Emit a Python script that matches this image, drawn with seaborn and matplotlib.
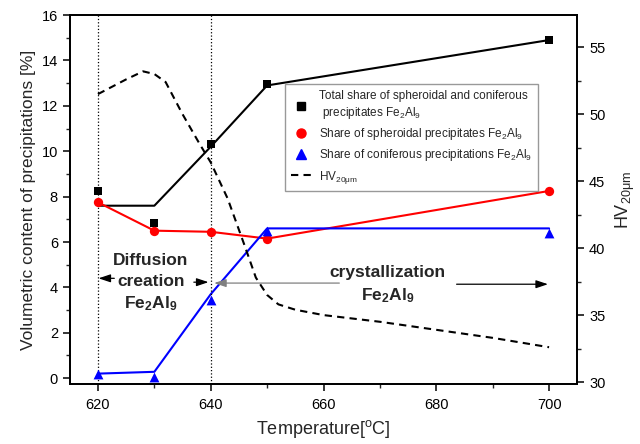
import pandas as pd
import seaborn as sns
import matplotlib.pyplot as plt
from matplotlib.lines import Line2D

# measured points (volumetric content, %)
temps = [620, 630, 640, 650, 700]
total_pts = [8.25, 6.85, 10.3, 12.95, 14.9]
spher_pts = [7.75, 6.5, 6.45, 6.15, 8.25]
conif_pts = [0.2, 0.05, 3.45, 6.5, 6.4]

# fitted lines
total_fit = [7.6, 7.6, 10.2, 12.9, 14.9]
spher_fit = [7.75, 6.5, 6.45, 6.15, 8.25]
conif_fit = [0.2, 0.28, 3.7, 6.6, 6.6]

# hardness curve (right axis)
hv_temps = [620, 625, 628, 630, 632, 635, 638, 640, 643, 646, 648, 650,
            652, 655, 660, 670, 680, 690, 700]
hv_vals = [51.5, 52.6, 53.2, 53.0, 52.4, 50.0, 47.8, 46.4, 43.7, 40.2, 37.8, 36.5,
           35.8, 35.4, 35.0, 34.5, 33.9, 33.3, 32.6]

sns.set_theme(style="ticks")
plt.rcParams['font.family'] = ['Liberation Sans', 'DejaVu Sans']
plt.rcParams['mathtext.fontset'] = 'custom'
plt.rcParams['mathtext.rm'] = 'Liberation Sans'
plt.rcParams['mathtext.it'] = 'Liberation Sans'
plt.rcParams['mathtext.bf'] = 'Liberation Sans:bold'

df = pd.DataFrame({'T': temps, 'total': total_pts, 'spher': spher_pts, 'conif': conif_pts,
                   'total_fit': total_fit, 'spher_fit': spher_fit, 'conif_fit': conif_fit})
hv = pd.DataFrame({'T': hv_temps, 'HV': hv_vals})

fig = plt.figure(figsize=(6.4, 4.44), dpi=100)
ax = fig.add_axes([0.109, 0.135, 0.793, 0.831])

sns.lineplot(data=df, x='T', y='total_fit', color='black', lw=1.5, ax=ax, estimator=None)
sns.lineplot(data=df, x='T', y='spher_fit', color='red', lw=1.5, ax=ax, estimator=None)
sns.lineplot(data=df, x='T', y='conif_fit', color='blue', lw=1.5, ax=ax, estimator=None)
sns.scatterplot(data=df, x='T', y='total', marker='s', color='black', s=40, ax=ax, zorder=5, linewidth=0)
sns.scatterplot(data=df, x='T', y='spher', marker='o', color='red', s=45, ax=ax, zorder=5, linewidth=0)
sns.scatterplot(data=df, x='T', y='conif', marker='^', color='blue', s=50, ax=ax, zorder=5, linewidth=0)

ax.axvline(620, color='black', ls=':', lw=0.9)
ax.axvline(640, color='black', ls=':', lw=0.9)

ax.set_xlim(615, 705)
ax.set_ylim(-0.26, 16)
ax.set_xticks([620, 640, 660, 680, 700])
ax.set_xticks([630, 650, 670, 690], minor=True)
ax.set_yticks(range(0, 17, 2))
ax.set_yticks(range(1, 16, 2), minor=True)
ax.set_xlabel('Temperature[$^{\\mathrm{o}}$C]', fontsize=13)
ax.set_ylabel('Volumetric content of precipitations [%]', fontsize=12.5)

ax2 = ax.twinx()
sns.lineplot(data=hv, x='T', y='HV', color='black', lw=1.5, ls=(0, (3.5, 2.5)), ax=ax2, estimator=None)
ax2.set_ylim(29.85, 57.4)
ax2.set_yticks([30, 35, 40, 45, 50, 55])
ax2.set_yticks([32.5, 37.5, 42.5, 47.5, 52.5], minor=True)
ax2.set_ylabel('HV$_{\\mathrm{20\\mu m}}$', fontsize=13, labelpad=6)
ax2.set_xlabel('')

for a in (ax, ax2):
    for sp in a.spines.values():
        sp.set_linewidth(1.3)
        sp.set_color('black')
    a.tick_params(which='major', length=5, width=1.1, labelsize=10.5, colors='black')
    a.tick_params(which='minor', length=3, width=1.0)
ax.tick_params(axis='x', pad=5)

# phase annotations
bold = dict(fontsize=12.5, fontweight='bold', ha='center', va='center')
ax.text(629.4, 5.2, 'Diffusion', **bold)
ax.text(629.4, 4.27, 'creation', **bold)
ax.text(629.4, 3.3, 'Fe$_\\mathbf{2}$Al$_\\mathbf{9}$', **bold)
ax.text(671.4, 4.67, 'crystallization', **bold)
ax.text(671.4, 3.62, 'Fe$_\\mathbf{2}$Al$_\\mathbf{9}$', **bold)

arrow = dict(arrowstyle='-|>,head_length=0.6,head_width=0.2', lw=0.9, color='black', shrinkA=0, shrinkB=0)
ax.annotate('', xy=(620.1, 4.4), xytext=(622.9, 4.4), arrowprops=arrow)
ax.annotate('', xy=(639.6, 4.23), xytext=(637.0, 4.23), arrowprops=arrow)
ax.annotate('', xy=(640.6, 4.19), xytext=(662.8, 4.19),
            arrowprops=dict(arrow, color='gray'))
ax.annotate('', xy=(699.8, 4.14), xytext=(683.6, 4.14), arrowprops=arrow)

handles = [
    Line2D([], [], ls='none', marker='s', color='black', markersize=6),
    Line2D([], [], ls='none', marker='o', color='red', markersize=6.5),
    Line2D([], [], ls='none', marker='^', color='blue', markersize=7),
    Line2D([], [], color='black', lw=1.5, ls=(0, (3.5, 2.5))),
]
labels = [
    'Total share of spheroidal and coniferous\n precipitates Fe$_2$Al$_9$',
    'Share of spheroidal precipitates Fe$_2$Al$_9$',
    'Share of coniferous precipitations Fe$_2$Al$_9$',
    'HV$_{\\mathrm{20\\mu m}}$',
]
leg = ax2.legend(handles, labels, loc='upper left', bbox_to_anchor=(0.424, 0.812),
                 borderaxespad=0, fontsize=8.5, frameon=True, fancybox=False,
                 edgecolor='gray', handlelength=1.8, handletextpad=0.6,
                 borderpad=0.5, labelspacing=0.45)
leg.get_frame().set_linewidth(1.0)

fig.savefig('out.png', dpi=100)
